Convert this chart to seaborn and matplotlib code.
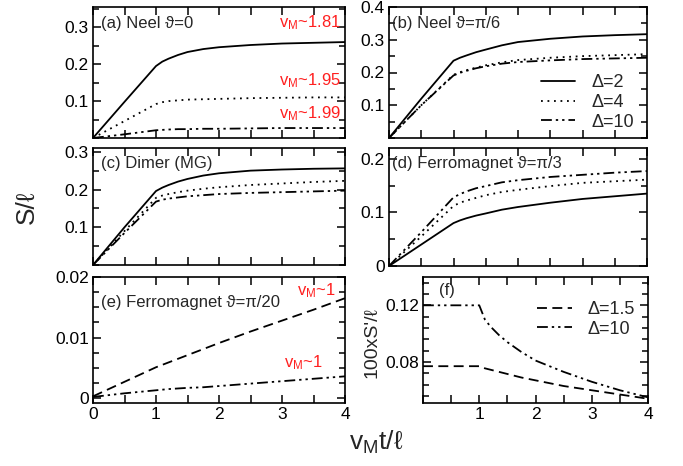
import numpy as np
import pandas as pd
import matplotlib
matplotlib.use("Agg")
import matplotlib.pyplot as plt
from matplotlib.ticker import MultipleLocator, FixedLocator
import seaborn as sns

# ---------------- data ----------------
t = [0, 0.5, 1.0, 1.1, 1.2, 1.35, 1.5, 1.75, 2.0, 2.5, 3.0, 3.5, 4.0]

a_d2 = [0, 0.098, 0.195, 0.207, 0.215, 0.225, 0.233, 0.241, 0.246, 0.252, 0.256, 0.258, 0.260]
a_d4 = [0, 0.046, 0.092, 0.097, 0.100, 0.102, 0.104, 0.105, 0.106, 0.108, 0.109, 0.110, 0.110]
a_d10 = [0, 0.010, 0.021, 0.022, 0.023, 0.024, 0.024, 0.025, 0.025, 0.026, 0.027, 0.027, 0.027]

b_d2 = [0, 0.120, 0.236, 0.245, 0.252, 0.262, 0.270, 0.283, 0.293, 0.303, 0.310, 0.314, 0.317]
b_d4 = [0, 0.100, 0.193, 0.201, 0.207, 0.215, 0.222, 0.231, 0.238, 0.245, 0.250, 0.253, 0.256]
b_d10 = [0, 0.100, 0.191, 0.199, 0.205, 0.213, 0.219, 0.227, 0.232, 0.237, 0.241, 0.243, 0.245]

c_d2 = [0, 0.100, 0.196, 0.205, 0.212, 0.221, 0.228, 0.237, 0.243, 0.250, 0.253, 0.255, 0.256]
c_d4 = [0, 0.090, 0.178, 0.184, 0.188, 0.193, 0.197, 0.202, 0.206, 0.212, 0.216, 0.220, 0.223]
c_d10 = [0, 0.085, 0.168, 0.173, 0.176, 0.179, 0.182, 0.185, 0.188, 0.191, 0.193, 0.195, 0.197]

d_d2 = [0, 0.040, 0.080, 0.085, 0.089, 0.094, 0.098, 0.105, 0.110, 0.118, 0.125, 0.130, 0.135]
d_d4 = [0, 0.055, 0.112, 0.118, 0.122, 0.127, 0.132, 0.138, 0.142, 0.149, 0.155, 0.158, 0.161]
d_d10 = [0, 0.063, 0.128, 0.134, 0.139, 0.145, 0.149, 0.156, 0.160, 0.166, 0.170, 0.174, 0.177]

e_d15 = [0.0003, 0.0027, 0.0051, 0.0055, 0.0059, 0.0065, 0.0071, 0.0081, 0.0091, 0.0110, 0.0128, 0.0146, 0.0165]
e_d10 = [0.0002, 0.0008, 0.0013, 0.0014, 0.0015, 0.0016, 0.0017, 0.0018, 0.0020, 0.0024, 0.0028, 0.0032, 0.0036]

f_d15 = [0.077, 0.077, 0.077, 0.0755, 0.0745, 0.073, 0.0715, 0.069, 0.067, 0.063, 0.060, 0.057, 0.054]
f_d10 = [0.120, 0.120, 0.120, 0.110, 0.105, 0.099, 0.094, 0.087, 0.081, 0.073, 0.066, 0.060, 0.055]

labels_3 = ["Δ=2", "Δ=4", "Δ=10"]
labels_f = ["Δ=1.5", "Δ=10"]

# ---------------- style ----------------
sns.set_theme(style="ticks")
plt.rcParams["font.family"] = ["Liberation Sans", "DejaVu Sans"]
plt.rcParams["mathtext.fontset"] = "custom"
plt.rcParams["mathtext.rm"] = "Liberation Sans"
plt.rcParams["mathtext.it"] = "Liberation Sans:italic"

SOLID = "-"
DOT = (0, (1, 2.6))
DASHDOT = (0, (6, 2.2, 1.3, 2.2, 1.3, 2.2))
DASH = (0, (5.5, 3))
LW = 1.3

W, H = 683, 466
fig = plt.figure(figsize=(W / 100, H / 100), dpi=100)


def box(l, r, top, bot):
    return [l / W, 1 - bot / H, (r - l) / W, (bot - top) / H]


ax_a = fig.add_axes(box(93, 345, 7, 138))
ax_b = fig.add_axes(box(389, 647, 7, 138))
ax_c = fig.add_axes(box(93, 345, 148, 265))
ax_d = fig.add_axes(box(389, 647, 148, 266))
ax_e = fig.add_axes(box(93, 345, 277, 403))
ax_f = fig.add_axes(box(423, 648, 277, 403))


def draw(ax, ys, styles, labels=None):
    for i, (y, ls) in enumerate(zip(ys, styles)):
        df = pd.DataFrame({"t": t, "S": y})
        kw = {}
        if labels is not None:
            kw["label"] = labels[i]
        sns.lineplot(data=df, x="t", y="S", ax=ax, color="black", lw=LW,
                     linestyle=ls, legend=False, **kw)


draw(ax_a, [a_d2, a_d4, a_d10], [SOLID, DOT, DASHDOT])
draw(ax_b, [b_d2, b_d4, b_d10], [SOLID, DOT, DASHDOT], labels_3)
draw(ax_c, [c_d2, c_d4, c_d10], [SOLID, DOT, DASHDOT])
draw(ax_d, [d_d2, d_d4, d_d10], [SOLID, DOT, DASHDOT])
draw(ax_e, [e_d15, e_d10], [DASH, DASHDOT])
draw(ax_f, [f_d15, f_d10], [DASH, DASHDOT], labels_f)

TICK_FS = 12.5


def fmt(v):
    s = f"{v:.2f}".rstrip("0").rstrip(".")
    return s


def style(ax, ylim, yticks, yminor, xlabels=None):
    ax.set_xlim(0, 4)
    ax.set_ylim(*ylim)
    ax.xaxis.set_major_locator(FixedLocator([0, 1, 2, 3, 4]))
    ax.xaxis.set_minor_locator(MultipleLocator(0.5))
    ax.yaxis.set_major_locator(FixedLocator(yticks))
    ax.yaxis.set_minor_locator(MultipleLocator(yminor))
    ax.set_yticklabels([fmt(v) for v in yticks])
    if xlabels is None:
        ax.set_xticklabels([])
    else:
        ax.set_xticklabels(xlabels)
    ax.tick_params(which="both", direction="in", top=True, right=True,
                   labelsize=TICK_FS, width=1.1, colors="black", pad=3)
    ax.tick_params(which="major", length=6)
    ax.tick_params(which="minor", length=4)
    ax.tick_params(axis="x", which="minor", length=6)
    for sp in ax.spines.values():
        sp.set_linewidth(1.2)
        sp.set_color("black")
    ax.set_xlabel("")
    ax.set_ylabel("")
    ax.set_facecolor("white")


style(ax_a, (0, 0.355), [0.1, 0.2, 0.3], 0.05)
style(ax_b, (0, 0.4), [0.1, 0.2, 0.3, 0.4], 0.05)
style(ax_c, (0, 0.31), [0.1, 0.2, 0.3], 0.05)
style(ax_d, (0, 0.22), [0, 0.1, 0.2], 0.05)
style(ax_e, (-0.0008, 0.02), [0, 0.01, 0.02], 0.0025, ["0", "1", "2", "3", "4"])
style(ax_f, (0.051, 0.14), [0.08, 0.12], 0.008, ["", "1", "2", "3", "4"])

TFS = 12
ax_a.text(0.03, 0.93, "(a) Neel ϑ=0", transform=ax_a.transAxes, fontsize=TFS, va="top")
ax_b.text(0.01, 0.93, "(b) Neel ϑ=π/6", transform=ax_b.transAxes, fontsize=TFS, va="top")
ax_c.text(0.03, 0.93, "(c) Dimer (MG)", transform=ax_c.transAxes, fontsize=TFS, va="top")
ax_d.text(0.01, 0.93, "(d) Ferromagnet ϑ=π/3", transform=ax_d.transAxes, fontsize=TFS, va="top")
ax_e.text(0.03, 0.86, "(e) Ferromagnet ϑ=π/20", transform=ax_e.transAxes, fontsize=TFS, va="top")
ax_f.text(0.07, 0.95, "(f)", transform=ax_f.transAxes, fontsize=TFS, va="top")

RED = "#ff2020"
vm = r"v$_\mathregular{M}$"
ax_a.text(3.93, 0.312, vm + "~1.81", color=RED, fontsize=TFS, ha="right", va="center")
ax_a.text(3.93, 0.155, vm + "~1.95", color=RED, fontsize=TFS, ha="right", va="center")
ax_a.text(3.93, 0.067, vm + "~1.99", color=RED, fontsize=TFS, ha="right", va="center")
ax_e.text(3.85, 0.0178, vm + "~1", color=RED, fontsize=TFS, ha="right", va="center")
ax_e.text(3.65, 0.0058, vm + "~1", color=RED, fontsize=TFS, ha="right", va="center")

ax_b.legend(loc="lower right", bbox_to_anchor=(1.0, -0.04), frameon=False,
            fontsize=13, handlelength=1.9, handletextpad=0.9, labelspacing=0.15,
            borderaxespad=0.3)
ax_f.legend(loc="upper right", bbox_to_anchor=(1.0, 0.91), frameon=False,
            fontsize=13, handlelength=1.9, handletextpad=0.9, labelspacing=0.15,
            borderaxespad=0.3)

fig.text(27 / W, 1 - 207 / H, "S/ℓ", rotation=90, fontsize=19, ha="center", va="center")
fig.text(372 / W, 1 - 343 / H, "100xS'/ℓ", rotation=90, fontsize=14, ha="center", va="center")
fig.text(376 / W, 1 - 442 / H, r"v$_\mathregular{M}$t/ℓ", fontsize=19, ha="center", va="center")

fig.savefig("out.png", dpi=100, facecolor="white")
